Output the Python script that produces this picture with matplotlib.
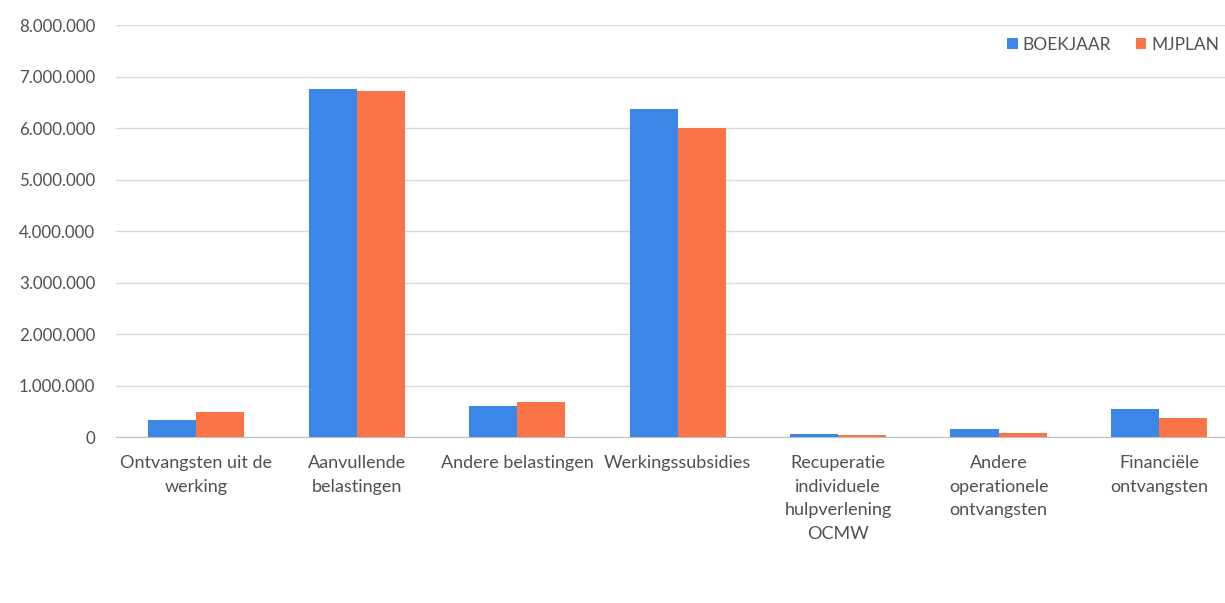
import numpy as np
import matplotlib.pyplot as plt
from matplotlib.ticker import FuncFormatter

# Data
categories = ['Ontvangsten uit de\nwerking', 'Aanvullende\nbelastingen', 'Andere belastingen',
              'Werkingssubsidies', 'Recuperatie\nindividuele\nhulpverlening\nOCMW',
              'Andere\noperationele\nontvangsten', 'Financiële\nontvangsten']
boekjaar = [330000, 6760000, 600000, 6370000, 60000, 150000, 540000]
mjplan = [485000, 6720000, 680000, 6010000, 40000, 90000, 370000]

plt.rcParams['font.family'] = ['Lato', 'DejaVu Sans']

blue = '#3b86e6'
orange = '#fb7448'
text_col = '#505050'

fig = plt.figure(figsize=(12.25, 6.03), dpi=100)
ax = fig.add_axes([0.0947, 0.275, 0.917, 0.6835])

x = np.arange(len(categories))
w = 0.3
ax.bar(x - w / 2, boekjaar, w, color=blue, label='BOEKJAAR', zorder=3)
ax.bar(x + w / 2, mjplan, w, color=orange, label='MJPLAN', zorder=3)

ax.set_ylim(0, 8000000)
ax.set_yticks(np.arange(0, 8000001, 1000000))
ax.yaxis.set_major_formatter(FuncFormatter(lambda v, p: f'{int(v):,}'.replace(',', '.')))
ax.set_xlim(-0.5, len(categories) - 0.5)
ax.set_xticks(x)
ax.set_xticklabels(categories, linespacing=1.58)

ax.grid(axis='y', color='#d9d9d9', linewidth=1, zorder=0)
for s in ['top', 'right', 'left']:
    ax.spines[s].set_visible(False)
ax.spines['bottom'].set_color('#bfbfbf')
ax.tick_params(axis='x', length=0, labelsize=13, colors=text_col, pad=13)
ax.tick_params(axis='y', length=0, labelsize=12.2, colors=text_col, pad=15)

leg = fig.legend(loc='upper right', bbox_to_anchor=(1.008, 0.965), ncol=2, frameon=False,
                 fontsize=12.5, handlelength=0.6, handleheight=0.6, handletextpad=0.3,
                 columnspacing=1.4)
for t in leg.get_texts():
    t.set_color(text_col)

fig.savefig('out.png', dpi=100)
